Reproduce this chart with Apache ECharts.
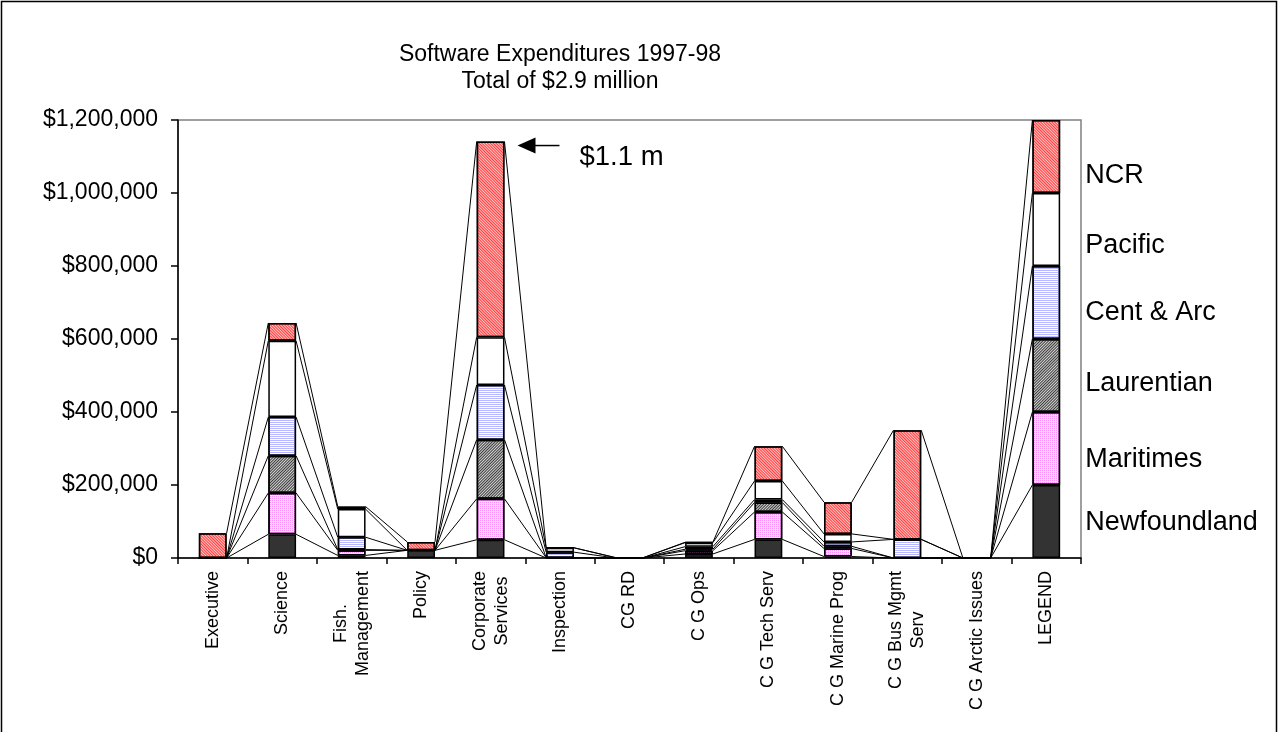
<!DOCTYPE html>
<html>
<head>
<meta charset="utf-8">
<script src="https://cdn.jsdelivr.net/npm/echarts@6/dist/echarts.min.js"></script>
<style>
html, body { margin: 0; padding: 0; background: #ffffff; }
#chart { width: 1281px; height: 732px; }
</style>
</head>
<body>
<div id="chart"></div>
<script>
// Branches / programs along the x axis
const categories = [
  'Executive', 'Science', 'Fish.\nManagement', 'Policy', 'Corporate\nServices',
  'Inspection', 'CG RD', 'C G Ops', 'C G Tech Serv', 'C G Marine Prog',
  'C G Bus Mgmt\nServ', 'C G Arctic Issues', 'LEGEND'
];

// Regions, stacked bottom to top
const regionNames = ['Newfoundland', 'Maritimes', 'Laurentian', 'Cent & Arc', 'Pacific', 'NCR'];

// Software spending per region ($), one value per category
const newfoundland = [0, 65000, 7000, 21000, 50000, 0, 0, 11000, 51000, 4000, 0, 0, 200000];
const maritimes    = [0, 113000, 14000, 0, 112000, 1000, 0, 9000, 75000, 22000, 0, 0, 200000];
const laurentian   = [0, 102000, 2000, 0, 162000, 0, 0, 4000, 26000, 6000, 0, 0, 200000];
const centArc      = [0, 106000, 34000, 0, 150000, 15000, 0, 7000, 8000, 12000, 51000, 0, 200000];
const pacific      = [0, 209000, 77000, 0, 131000, 12000, 1000, 11000, 51000, 22000, 0, 0, 200000];
const ncr          = [68000, 49000, 7000, 23000, 536000, 0, 0, 1000, 95000, 87000, 299000, 0, 200000];

// Value axis
const yMin = 0;
const yMax = 1200000;
const yInterval = 200000;

// Callout on the largest bar
const calloutCategory = 4;
const calloutText = '$1.1 m';

const titleLines = ['Software Expenditures 1997-98', 'Total of $2.9 million'];

// ---------------------------------------------------------------------------
const FONT = '"Liberation Sans", Arial, sans-serif';
const BAR_RATIO = 0.4;
const stacks = [newfoundland, maritimes, laurentian, centArc, pacific, ncr];
const legendIndex = categories.indexOf('LEGEND');

// running totals: top edge of each region's segment in every column
const cumulative = stacks.map((_, s) =>
  categories.map((_, i) => stacks.slice(0, s + 1).reduce((acc, arr) => acc + arr[i], 0))
);

// fills: solid, dotted, hatched, ruled, plain, hatched
const fills = [
  { color: '#333333' },
  { color: '#ffe6ff', decal: { symbol: 'rect', symbolSize: 1, color: '#ff8cff', dashArrayX: [1, 1], dashArrayY: [1, 1] } },
  { color: '#d4d4d4', decal: { symbol: 'rect', symbolSize: 1, color: '#3a3a3a', dashArrayX: [1, 0], dashArrayY: [1, 1], rotation: -Math.PI / 4 } },
  { color: '#ffffff', decal: { symbol: 'rect', symbolSize: 1, color: '#b8b8ff', dashArrayX: [1, 0], dashArrayY: [1, 1] } },
  { color: '#ffffff' },
  { color: '#ffc4c4', decal: { symbol: 'rect', symbolSize: 1, color: '#ff3c3c', dashArrayX: [1, 0], dashArrayY: [1, 1], rotation: Math.PI / 4 } }
];

// vertical nudges for the region names printed beside the LEGEND column
const nameNudge = [1, 11, 8, 10, 16, 19];

const barSeries = stacks.map((values, s) => ({
  name: regionNames[s],
  type: 'bar',
  stack: 'total',
  barWidth: (BAR_RATIO * 100) + '%',
  z: 3,
  itemStyle: Object.assign({ borderColor: '#000000', borderWidth: 1.5 }, fills[s]),
  emphasis: { disabled: true },
  data: values.map((v, i) => i === legendIndex ? {
    value: v,
    label: {
      show: true,
      position: 'right',
      distance: 25,
      offset: [0, nameNudge[s]],
      formatter: regionNames[s],
      fontFamily: FONT,
      fontSize: 27,
      color: '#000000'
    }
  } : v)
}));

// Lines joining each region's segment tops from one column to the next
function renderSeriesLines(params, api) {
  const i = api.value(0);
  const half = api.size([1, 0])[0] * BAR_RATIO / 2;
  return {
    type: 'group',
    children: cumulative.map(cum => {
      const a = api.coord([i, cum[i]]);
      const b = api.coord([i + 1, cum[i + 1]]);
      return {
        type: 'line',
        shape: { x1: a[0] + half, y1: a[1], x2: b[0] - half, y2: b[1] },
        style: { stroke: '#000000', lineWidth: 1 }
      };
    })
  };
}

// Arrow and text pointing at the top of the tallest column
function renderCallout(params, api) {
  const p = api.coord([api.value(0), api.value(1)]);
  const half = api.size([1, 0])[0] * BAR_RATIO / 2;
  const tipX = p[0] + half + 13;
  const y = p[1] + 4;
  return {
    type: 'group',
    children: [
      { type: 'line', shape: { x1: tipX + 14, y1: y, x2: tipX + 42, y2: y }, style: { stroke: '#000000', lineWidth: 1.5 } },
      { type: 'polygon', shape: { points: [[tipX, y], [tipX + 18, y - 8], [tipX + 18, y + 8]] }, style: { fill: '#000000' } },
      {
        type: 'text', x: tipX + 62, y: p[1] + 16,
        style: { text: calloutText, fontFamily: FONT, fontSize: 27.5, fill: '#000000', align: 'left', verticalAlign: 'middle' }
      }
    ]
  };
}

const chart = echarts.init(document.getElementById('chart'), null, { renderer: 'canvas' });

chart.setOption({
  animation: false,
  backgroundColor: '#ffffff',
  textStyle: { fontFamily: FONT },
  title: {
    text: titleLines.join('\n'),
    left: 560,
    top: 41,
    textAlign: 'center',
    padding: 0,
    textStyle: { fontFamily: FONT, fontSize: 23, fontWeight: 'normal', color: '#000000', lineHeight: 27 }
  },
  graphic: [{
    type: 'rect',
    shape: { x: 1.5, y: 1.5, width: 1275, height: 760 },
    style: { fill: 'none', stroke: '#000000', lineWidth: 1.5 },
    silent: true
  }],
  grid: {
    left: 178, right: 200, top: 120, bottom: 174,
    show: true, borderColor: '#808080', borderWidth: 1.5, backgroundColor: 'transparent'
  },
  xAxis: {
    type: 'category',
    data: categories,
    boundaryGap: true,
    axisLine: { show: true, lineStyle: { color: '#000000', width: 1.5 } },
    axisTick: { show: true, length: 6, lineStyle: { color: '#000000', width: 1.5 } },
    splitLine: { show: false },
    axisLabel: {
      interval: 0,
      rotate: 90,
      margin: 13,
      color: '#000000',
      fontFamily: FONT,
      fontSize: 18,
      lineHeight: 22,
      formatter: v => v.split('\n').map(line => '{c|' + line + '}').join('\n'),
      rich: { c: { align: 'center', fontFamily: FONT, fontSize: 18, lineHeight: 22, color: '#000000' } }
    }
  },
  yAxis: {
    type: 'value',
    min: yMin,
    max: yMax,
    interval: yInterval,
    axisLine: { show: true, lineStyle: { color: '#000000', width: 1.5 } },
    axisTick: { show: true, length: 7, lineStyle: { color: '#000000', width: 1.5 } },
    splitLine: { show: false },
    axisLabel: {
      margin: 20,
      color: '#000000',
      fontFamily: FONT,
      fontSize: 23,
      formatter: v => '$' + Number(v).toLocaleString('en-US')
    }
  },
  series: [
    {
      type: 'custom',
      name: 'series lines',
      z: 2,
      clip: false,
      silent: true,
      renderItem: renderSeriesLines,
      encode: { x: 0, y: 1 },
      data: categories.slice(0, -1).map((_, i) => [i, 0])
    },
    ...barSeries,
    {
      type: 'custom',
      name: 'callout',
      z: 4,
      clip: false,
      silent: true,
      renderItem: renderCallout,
      encode: { x: 0, y: 1 },
      data: [[calloutCategory, cumulative[cumulative.length - 1][calloutCategory]]]
    }
  ]
});
</script>
</body>
</html>
